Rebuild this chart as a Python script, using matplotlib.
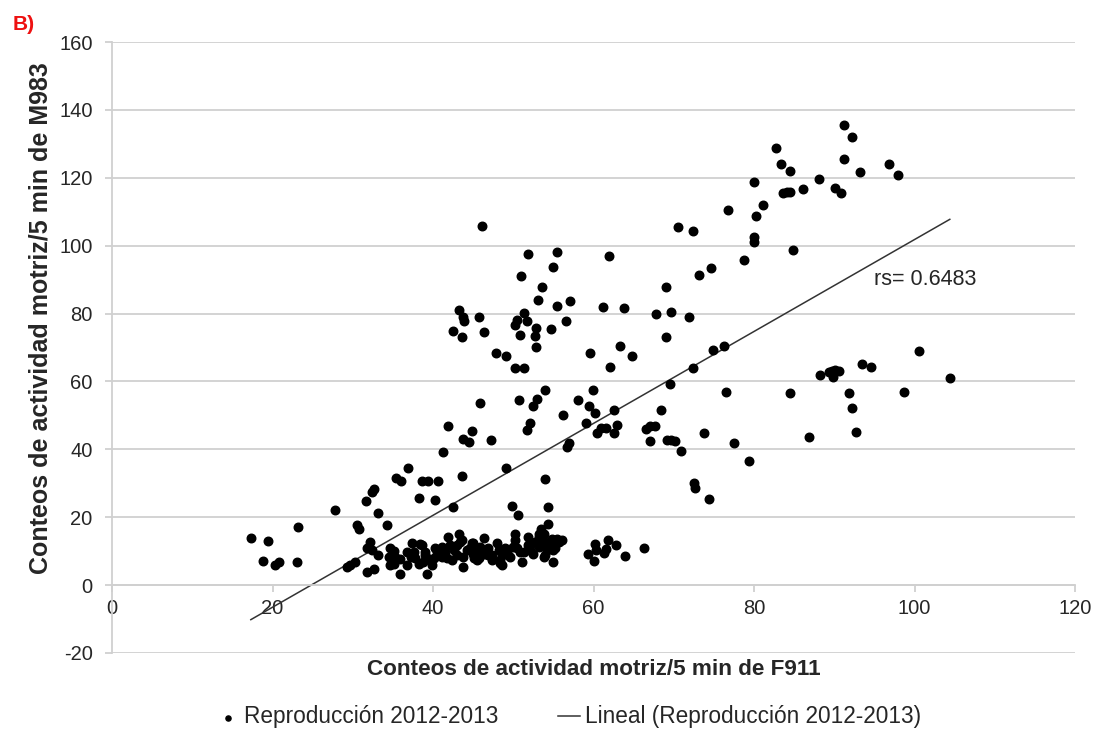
import matplotlib.pyplot as plt
import numpy as np

plt.rcParams['font.family'] = ['Liberation Sans', 'DejaVu Sans']
plt.rcParams['axes.unicode_minus'] = False

# --- data ---
x_low = [17.3, 19.4, 18.8, 20.3, 20.8, 23.0, 23.2, 27.8,
         36.9, 35.4, 36.0, 38.6, 39.4, 40.6, 32.6, 32.4, 31.6, 38.2, 33.1, 30.5, 30.8, 34.3, 40.3,
         32.1, 31.8, 32.4, 33.2, 29.3, 29.7, 30.3, 31.8, 32.7,
         34.7, 35.1, 34.5, 35.3, 35.9, 34.7, 35.1, 35.9,
         37.4, 38.4, 36.7, 37.6, 37.2, 37.8, 36.7, 38.2, 39.2,
         39.0, 39.3, 38.8, 40.3, 40.1, 40.5, 39.9,
         41.1, 41.5, 41.1, 41.9, 42.1, 42.6, 43.0, 41.7, 42.4]
y_low = [13.9, 13.0, 7.2, 5.8, 6.7, 6.7, 17.0, 22.1,
         34.4, 31.7, 30.7, 30.7, 30.7, 30.6, 28.2, 27.3, 24.7, 25.8, 21.1, 17.7, 16.5, 17.6, 25.2,
         12.8, 10.8, 10.3, 9.0, 5.4, 5.9, 6.9, 3.9, 4.7,
         10.8, 10.0, 8.3, 8.3, 7.7, 5.9, 6.1, 3.2,
         12.5, 12.0, 9.8, 9.8, 8.3, 8.0, 5.9, 6.1, 3.4,
         9.8, 7.9, 6.9, 10.8, 7.9, 9.8, 5.9,
         11.3, 9.8, 8.3, 14.2, 11.8, 10.3, 8.8, 7.9, 7.4]

x_mid = [42.5, 49.8, 50.6, 54.3, 54.3, 53.5, 53.2, 50.2,
         43.2, 43.4, 46.4, 48.0, 45.0, 51.8, 38.6, 39.0, 39.7,
         43.8, 43.8, 44.2, 45.0, 45.5, 46.3, 46.9, 47.3, 48.4, 48.6, 49.2, 49.6, 50.0,
         50.9, 51.1, 52.1, 52.5, 52.3, 53.2, 53.6, 53.8, 54.2, 54.8, 55.0, 55.4, 56.1, 55.0,
         59.3, 60.2, 60.3, 60.1, 61.3, 61.6, 61.8, 62.8, 63.9, 66.3,
         43.6, 43.0, 44.8, 44.6, 45.3, 45.1, 45.9, 46.3, 45.7,
         46.9, 47.3, 48.2, 48.4, 48.6, 49.0, 49.4, 50.2, 50.5, 51.3, 51.9,
         52.7, 53.2, 53.8, 54.0, 54.0, 54.6, 54.8, 55.2, 55.7]
y_mid = [22.9, 23.3, 20.8, 22.9, 18.1, 16.5, 15.2, 15.2,
         15.2, 12.8, 13.9, 12.5, 12.3, 14.2, 11.8, 8.8, 7.4,
         8.3, 5.2, 10.3, 9.3, 7.4, 10.3, 8.8, 7.4, 6.4, 8.8, 10.3, 8.3, 11.3,
         9.8, 6.9, 10.3, 9.3, 12.3, 11.3, 12.8, 8.3, 10.3, 11.8, 10.3, 13.7, 13.3, 6.9,
         9.3, 12.0, 10.3, 7.1, 9.5, 10.5, 13.3, 11.8, 8.6, 10.8,
         13.3, 11.8, 12.3, 10.8, 9.8, 7.9, 11.3, 9.3, 7.9,
         10.8, 8.8, 10.3, 7.4, 5.9, 10.8, 8.8, 13.3, 10.8, 9.8, 11.8,
         12.8, 14.2, 15.2, 12.8, 8.8, 11.8, 13.7, 10.8, 12.8]

x_up = [46.1, 51.8, 55.4, 61.9, 54.9, 51.0, 53.6, 53.1, 57.1, 55.4, 61.2, 43.3, 43.7, 43.9,
        45.7, 51.4, 50.5, 50.2, 51.7, 52.8, 52.7, 52.8, 50.8, 54.7, 56.6, 42.5, 43.6, 46.3,
        47.8, 49.1, 50.2, 51.4, 59.6, 62.0, 63.3, 54.0, 59.9, 45.8, 50.7, 53.0, 52.5, 58.1,
        59.5, 60.2, 62.5, 56.2, 41.9, 44.8, 43.8, 44.5, 47.2, 52.1, 51.7, 59.1, 60.4, 60.9,
        61.5, 62.5, 62.9, 56.9, 56.7, 41.3, 49.1, 53.9, 43.6]
y_up = [105.8, 97.6, 98.2, 97.1, 93.8, 91.1, 87.9, 84.1, 83.7, 82.1, 81.9, 81.0, 79.0, 77.8,
        79.0, 80.3, 78.1, 76.5, 77.8, 75.8, 73.3, 70.2, 73.7, 75.4, 77.8, 74.9, 73.0, 74.5,
        68.4, 67.5, 64.1, 64.1, 68.5, 64.2, 70.4, 57.6, 57.6, 53.6, 54.4, 54.7, 52.8, 54.5,
        52.7, 50.8, 51.7, 50.1, 47.0, 45.3, 43.0, 42.2, 42.7, 47.9, 45.7, 47.9, 44.7, 46.2,
        46.2, 44.9, 47.2, 41.9, 40.7, 39.2, 34.4, 31.4, 32.2]

x_right = [70.5, 72.4, 80.0, 80.0, 84.8, 78.7, 74.6, 73.1, 69.0, 63.8, 67.8, 69.7, 71.9, 69.0,
           64.8, 74.9, 76.2, 72.4, 69.5, 76.5, 84.5, 68.4, 66.5, 67.1, 67.7, 67.0, 69.2, 69.7,
           70.1, 73.8, 70.9, 77.5, 79.4, 72.5, 72.7, 74.4,
           91.2, 92.2, 82.7, 83.4, 84.5, 91.2, 93.2, 96.8, 97.9, 80.0, 88.1, 83.6, 84.1, 84.5,
           86.1, 90.1, 90.8, 76.7, 81.1, 80.3,
           100.5, 104.4, 93.5, 94.6, 88.2, 89.3, 89.7, 90.1, 90.6, 89.8, 91.8, 98.7, 92.2, 86.8, 92.7]
y_right = [105.5, 104.3, 102.6, 101.0, 98.8, 95.7, 93.3, 91.3, 87.7, 81.7, 79.8, 80.5, 79.1, 73.0,
           67.5, 69.2, 70.4, 64.1, 59.2, 56.9, 56.6, 51.6, 45.9, 46.8, 47.0, 42.5, 42.7, 42.7,
           42.4, 44.9, 39.6, 42.0, 36.7, 30.0, 28.7, 25.5,
           135.5, 132.0, 128.8, 124.0, 122.1, 125.6, 121.6, 124.0, 120.7, 118.9, 119.7, 115.4, 115.7, 115.9,
           116.6, 116.9, 115.4, 110.6, 112.1, 108.7,
           69.0, 61.1, 65.1, 64.3, 61.8, 62.7, 63.0, 63.3, 63.2, 61.4, 56.5, 56.9, 52.3, 43.6, 45.2]

# trendline (Excel linear fit)
trend_slope = 1.354
trend_intercept = -33.6
rs_text = "rs= 0.6483"

x = np.array(x_low + x_mid + x_up + x_right)
y = np.array(y_low + y_mid + y_up + y_right)

W, H, dpi = 1097, 734, 100
fig = plt.figure(figsize=(W / dpi, H / dpi), dpi=dpi)
ax = fig.add_axes([112 / W, 81 / H, 963 / W, 611 / H])

grid_c = '#d0d0d0'
txt_c = '#262626'
ax.set_xlim(0, 120)
ax.set_ylim(-20, 160)
ax.set_xticks(np.arange(0, 121, 20))
ax.set_yticks(np.arange(-20, 161, 20))
for v in np.arange(-20, 161, 20):
    ax.axhline(v, color=grid_c, lw=1.3, zorder=0)

for s in ['top', 'right']:
    ax.spines[s].set_visible(False)
ax.spines['bottom'].set_position(('data', 0))
ax.spines['bottom'].set_color(grid_c)
ax.spines['left'].set_color(grid_c)
ax.spines['bottom'].set_linewidth(1.3)
ax.spines['left'].set_linewidth(1.3)
ax.tick_params(axis='both', colors=grid_c, labelcolor=txt_c, labelsize=14.5, width=1.3, length=5)
ax.tick_params(axis='x', pad=5)
ax.tick_params(axis='y', pad=9)

sc = ax.scatter(x, y, s=38, color='black', zorder=3, label='Reproducción 2012-2013')
tx = np.array([x.min(), x.max()])
ln, = ax.plot(tx, trend_slope * tx + trend_intercept, color='#333333', lw=1.1, zorder=2,
              label='Lineal (Reproducción 2012-2013)')

ax.text(95, 90, rs_text, fontsize=15.5, color=txt_c, va='center')

ax.set_xlabel('Conteos de actividad motriz/5 min de F911', fontsize=16.2, fontweight='bold', color=txt_c)
ax.xaxis.set_label_coords(0.5, -0.010)
ax.set_ylabel('Conteos de actividad motriz/5 min de M983', fontsize=18, fontweight='bold', color=txt_c)
ax.yaxis.set_label_coords(-0.062, 0.548)

fig.text(13 / W, 1 - 25 / H, 'B)', color='#ee1111', fontsize=15, fontweight='bold', va='center')

fig.legend(handles=[sc, ln], loc='center', bbox_to_anchor=(569 / W, 1 - 717 / H), ncol=2,
           frameon=False, fontsize=16.3, handlelength=1.0, columnspacing=2.6, handletextpad=0.2,
           markerscale=0.6, labelcolor=txt_c)

fig.savefig('out.png', dpi=dpi)
